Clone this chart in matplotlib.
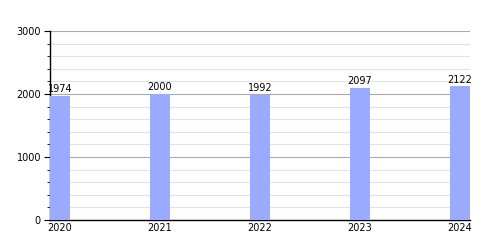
import matplotlib
matplotlib.use("Agg")
import matplotlib.pyplot as plt
from matplotlib.ticker import MultipleLocator

years = ["2020", "2021", "2022", "2023", "2024"]
values = [1974, 2000, 1992, 2097, 2122]

fig = plt.figure(figsize=(5, 2.5), dpi=100)
ax = fig.add_axes([0.10, 0.12, 0.84, 0.756])
x = list(range(len(years)))
ax.bar(x, values, width=0.2, color="#99aaff", zorder=3)
for xi, v in zip(x, values):
    ax.text(xi, v + 25, str(v), ha="center", va="bottom", fontsize=7, color="black", zorder=4)
ax.set_xlim(-0.1, 4.1)
ax.set_ylim(0, 3000)
ax.set_xticks(x)
ax.set_xticklabels(years, fontsize=7)
ax.tick_params(axis="x", length=0, pad=2)
ax.yaxis.set_major_locator(MultipleLocator(1000))
ax.yaxis.set_minor_locator(MultipleLocator(200))
ax.tick_params(axis="y", which="major", length=4.5, labelsize=7, pad=2)
ax.tick_params(axis="y", which="minor", length=2.2)
ax.grid(axis="y", which="major", color="#aaaaaa", linewidth=0.8, zorder=1)
ax.grid(axis="y", which="minor", color="#e2e2e2", linewidth=0.8, zorder=1)
for s in ["top", "right"]:
    ax.spines[s].set_visible(False)
ax.spines["left"].set_linewidth(1)
ax.spines["bottom"].set_linewidth(1)
fig.savefig("out.png", dpi=100)
